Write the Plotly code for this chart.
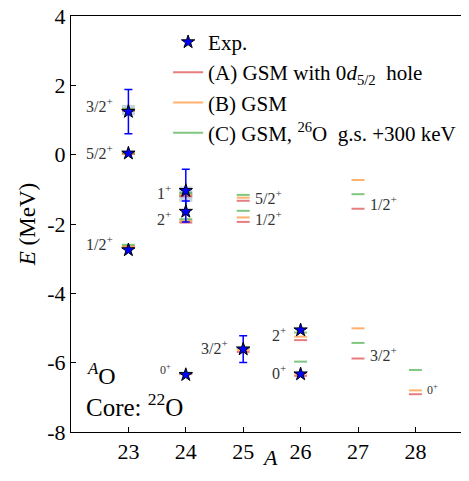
import plotly.graph_objects as go

# ---------------- data ----------------
# theoretical levels: mass number A, energies for (A), (B), (C)
lev_A = [23, 23, 23, 24, 24, 24, 25, 25, 25, 26, 26, 27, 27, 28]
lev_EA = [1.27, 0.02, -2.68, -1.20, -1.96, -6.33, -1.33, -1.94, -5.69, -5.35, -6.38, -1.56, -5.88, -6.91]
lev_EB = [1.30, 0.04, -2.64, -1.15, -1.91, -6.31, -1.24, -1.81, -5.63, -5.25, -6.31, -0.73, -5.01, -6.80]
lev_EC = [1.32, 0.06, -2.60, -1.10, -1.86, -6.29, -1.16, -1.62, -5.57, -5.13, -5.97, -1.14, -5.43, -6.21]

# experimental levels
exp_A = [23, 23, 23, 24, 24, 24, 25, 26, 26]
exp_E = [1.24, 0.04, -2.75, -1.04, -1.64, -6.35, -5.61, -5.06, -6.33]
exp_err = [0.64, 0, 0, 0.62, 0.30, 0, 0.385, 0, 0]

# resonance widths (shaded)
wid_A = [23, 24]
wid_E = [1.29, -1.14]
wid_half = [0.145, 0.22]

# level labels
lab_A = [23, 23, 23, 24, 24, 24, 25, 25, 25, 26, 26, 27, 27, 28]
lab_E = [1.43, 0.08, -2.54, -1.07, -1.83, -6.21, -1.22, -1.83, -5.55, -5.17, -6.27, -1.40, -5.75, -6.76]
lab_txt = ["3/2", "5/2", "1/2", "1", "2", "0", "5/2", "1/2", "3/2", "2", "0", "1/2", "3/2", "0"]
lab_side = ["l", "l", "l", "l", "l", "l", "r", "r", "l", "l", "l", "r", "r", "r"]
lab_small = [0, 0, 0, 0, 0, 1, 0, 0, 0, 0, 0, 0, 0, 1]

x_ticks = [23, 24, 25, 26, 27, 28]
y_ticks = [-8, -6, -4, -2, 0, 2, 4]

# ---------------- figure ----------------
SERIF = "Liberation Serif"
HW = 0.113  # half width of a level bar

def bars(xs, es):
    X, Y = [], []
    for a, e in zip(xs, es):
        X += [a - HW, a + HW, None]
        Y += [e, e, None]
    return X, Y

fig = go.Figure()

# shaded widths
for a, e, h in zip(wid_A, wid_E, wid_half):
    fig.add_trace(go.Scatter(
        x=[a - HW, a + HW, a + HW, a - HW, a - HW],
        y=[e - h, e - h, e + h, e + h, e - h],
        mode="lines", fill="toself", fillcolor="rgba(160,182,210,0.6)",
        line=dict(width=0), showlegend=False, hoverinfo="skip"))

cols = ["rgba(214,39,40,0.6)", "rgba(255,127,14,0.6)", "rgba(44,160,44,0.6)"]
names = ["(A) GSM with 0<i>d</i><sub>5/2</sub>  hole", "(B) GSM",
         "(C) GSM, <sup>26</sup>O  g.s. +300 keV"]
for k, (es, c, n) in enumerate(zip([lev_EA, lev_EB, lev_EC], cols, names)):
    X, Y = bars(lev_A, es)
    fig.add_trace(go.Scatter(x=X, y=Y, mode="lines", line=dict(color=c, width=2),
                             name=n, legendrank=k + 2, legendgroup=f"g{k}"))

# error bars
ea = [a for a, s in zip(exp_A, exp_err) if s > 0]
ee = [e for e, s in zip(exp_E, exp_err) if s > 0]
es_ = [s for s in exp_err if s > 0]
fig.add_trace(go.Scatter(x=ea, y=ee, mode="markers", marker=dict(size=1, opacity=0),
                         error_y=dict(type="data", array=es_, color="#0000ff",
                                      thickness=1.5, width=4),
                         showlegend=False, hoverinfo="skip"))

fig.add_trace(go.Scatter(x=exp_A, y=exp_E, mode="markers", name="Exp.",
                         marker=dict(symbol="star", size=10, color="#0000ff",
                                     line=dict(color="black", width=1)),
                         legendrank=1, legendgroup="exp"))

# labels
for a, e, t, s, sm in zip(lab_A, lab_E, lab_txt, lab_side, lab_small):
    fig.add_annotation(x=a, y=e, text=f"{t}<sup>+</sup>", showarrow=False,
                       xanchor="right" if s == "l" else "left",
                       xshift=-13 if s == "l" else 10, yanchor="middle",
                       font=dict(family=SERIF, size=12 if sm else 16, color="#333333"))

fig.add_annotation(xref="paper", yref="paper", x=0.036, y=0.14, text="<sup><i>A</i></sup>O",
                   showarrow=False, xanchor="left", yanchor="middle",
                   font=dict(family=SERIF, size=24, color="black"))
fig.add_annotation(xref="paper", yref="paper", x=0.034, y=0.066, text="Core: <sup>22</sup>O",
                   showarrow=False, xanchor="left", yanchor="middle",
                   font=dict(family=SERIF, size=25, color="black"))
# x-axis title
fig.add_annotation(xref="paper", yref="paper", x=0.51, y=-40/416, text="<i>A</i>",
                   showarrow=False, xanchor="center", yanchor="bottom",
                   font=dict(family=SERIF, size=22, color="black"))

fig.update_xaxes(range=[22, 22 + 390/57.4], tickvals=x_ticks, ticktext=[str(v) for v in x_ticks],
                 ticks="inside", ticklen=5, tickcolor="black", showline=True, linecolor="black",
                 linewidth=1, mirror=True, showgrid=False, zeroline=False,
                 tickfont=dict(family=SERIF, size=22, color="black"))
fig.update_yaxes(range=[-8, 4], tickvals=y_ticks, ticktext=[str(v) for v in y_ticks],
                 ticks="inside", ticklen=5, tickcolor="black", showline=True, linecolor="black",
                 linewidth=1, showgrid=False, zeroline=False, ticklabeloverflow="allow",
                 tickfont=dict(family=SERIF, size=22, color="black"),
                 title=dict(text="<i>E</i> (MeV)", font=dict(family=SERIF, size=23, color="black"),
                            standoff=5))

fig.update_layout(
    width=453, height=464, margin=dict(l=63, r=0, t=8, b=40, autoexpand=False),
    paper_bgcolor="white", plot_bgcolor="white",
    legend=dict(x=0.249, y=0.986, xanchor="left", yanchor="top", bgcolor="rgba(0,0,0,0)",
                font=dict(family=SERIF, size=21, color="black"), tracegroupgap=0),
)

fig.write_html("out.html")
